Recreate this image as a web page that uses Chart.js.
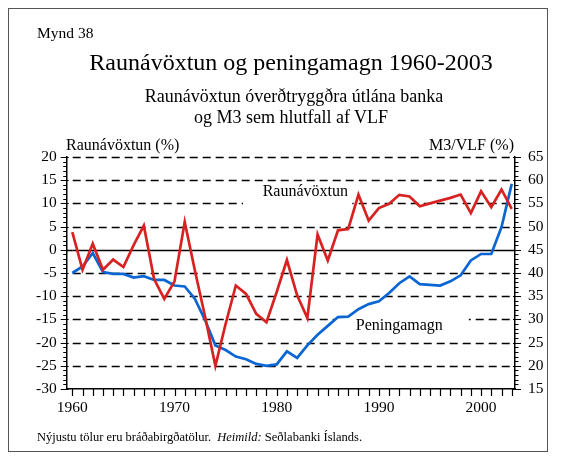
<!DOCTYPE html>
<html><head><meta charset="utf-8">
<script src="https://cdn.jsdelivr.net/npm/chart.js@4.4.0/dist/chart.umd.min.js"></script>
<style>
html,body{margin:0;padding:0;background:#fff;}
#wrap{position:relative;width:561px;height:458px;overflow:hidden;font-family:"Liberation Serif","Times New Roman",serif;color:#000;}
#frame{position:absolute;left:8px;top:8px;width:540px;height:444px;border:1px solid #555;box-sizing:border-box;}
canvas{position:absolute;left:0;top:0;}
.t{position:absolute;white-space:nowrap;line-height:1;}
</style></head><body>
<div id="wrap">
<div id="frame"></div>
<canvas id="c" width="561" height="458"></canvas>
<div class="t" style="left:37px;top:25px;font-size:15.5px;">Mynd 38</div>
<div class="t" style="left:0;width:582px;text-align:center;top:50px;font-size:24px;">Raunávöxtun og peningamagn 1960-2003</div>
<div class="t" style="left:0;width:588px;text-align:center;top:87px;font-size:18px;">Raunávöxtun óverðtryggðra útlána banka</div>
<div class="t" style="left:0;width:582px;text-align:center;top:108px;font-size:18px;">og M3 sem hlutfall af VLF</div>
<div class="t" style="left:66px;top:137px;font-size:16px;">Raunávöxtun (%)</div>
<div class="t" style="right:47px;top:137px;font-size:16px;">M3/VLF (%)</div>
<div class="t" style="left:37px;top:431px;font-size:12.5px;">Nýjustu tölur eru bráðabirgðatölur.&nbsp; <i>Heimild:</i> Seðlabanki Íslands.</div>
</div>
<script>
const years = [1960,1961,1962,1963,1964,1965,1966,1967,1968,1969,
               1970,1971,1972,1973,1974,1975,1976,1977,1978,1979,
               1980,1981,1982,1983,1984,1985,1986,1987,1988,1989,
               1990,1991,1992,1993,1994,1995,1996,1997,1998,1999,
               2000,2001,2002,2003];
const realRate = [3.8,-4.3,1.3,-4.3,-2.1,-3.7,1.0,5.2,-6.3,-10.6,
                  -6.8,6.0,-4.5,-14.5,-25.0,-16.0,-7.7,-9.5,-13.8,-15.6,
                  -9.1,-2.2,-9.8,-14.7,3.3,-2.3,4.2,4.5,11.9,6.3,
                  9.0,9.9,11.85,11.5,9.4,10.0,10.6,11.2,11.9,7.9,
                  12.6,9.2,13.0,8.8];
const m3 = [40.0,41.4,44.3,40.2,39.8,39.8,39.0,39.3,38.5,38.5,
            37.3,37.1,34.4,29.8,24.4,23.4,22.0,21.4,20.4,20.0,
            20.3,23.1,21.7,24.4,26.7,28.6,30.5,30.6,32.2,33.3,
            33.9,35.7,37.8,39.25,37.6,37.45,37.3,38.2,39.5,42.7,
            44.1,44.1,49.9,59.2];
const xLabels = [1960,1970,1980,1990,2000];
const leftTicks = [-30,-25,-20,-15,-10,-5,0,5,10,15,20];
const rightTicks = [15,20,25,30,35,40,45,50,55,60,65];
const gridVals = [20,15,10,5,0,-5,-10,-15,-20,-25];

Chart.defaults.font.family = "'Liberation Serif','Times New Roman',serif";
Chart.defaults.color = '#000';

const deco = {
  id:'deco',
  beforeDatasetsDraw(chart){
    const ctx = chart.ctx, ca = chart.chartArea;
    const x = chart.scales.x, yL = chart.scales.yL, yR = chart.scales.yR;
    ctx.save();
    ctx.strokeStyle = '#000';
    // horizontal grid lines
    gridVals.forEach(v=>{
      const py = Math.round(yL.getPixelForValue(v))+0.5;
      ctx.lineWidth = 1.6;
      ctx.setLineDash(v===0?[]:[8,5]);
      ctx.beginPath(); ctx.moveTo(ca.left+6, py); ctx.lineTo(ca.right, py); ctx.stroke();
      if (v===0){ctx.beginPath(); ctx.moveTo(ca.left, py); ctx.lineTo(ca.left+6, py); ctx.stroke();}
    });
    ctx.setLineDash([]);
    // gaps for labels
    ctx.fillStyle = '#fff';
    const gap = (x1,x2,v)=>{
      const a = x.getPixelForValue(x1), b = x.getPixelForValue(x2), py = yL.getPixelForValue(v);
      ctx.fillRect(a, py-3, b-a, 6);
    };
    gap(1976.7,1987.4,10);
    gap(1985.7,1998.8,-15);
    // labels
    ctx.fillStyle = '#000';
    ctx.font = "16px 'Liberation Serif','Times New Roman',serif";
    ctx.textAlign = 'center'; ctx.textBaseline = 'middle';
    ctx.fillText('Raunávöxtun', x.getPixelForValue(1982.8), yL.getPixelForValue(12.4));
    ctx.fillText('Peningamagn', x.getPixelForValue(1992.0), yL.getPixelForValue(-16.4));
    // ticks
    ctx.lineWidth = 1.2;
    ctx.beginPath();
    for (let v=-30; v<=20; v++){
      const py = Math.round(yL.getPixelForValue(v))+0.5;
      if (v%5===0){ ctx.moveTo(ca.left-6,py); ctx.lineTo(ca.left+2,py); }
      else { ctx.moveTo(ca.left-3.5,py); ctx.lineTo(ca.left,py); }
    }
    for (let v=15; v<=65; v++){
      const py = Math.round(yR.getPixelForValue(v))+0.5;
      if (v%5===0){ ctx.moveTo(ca.right-2,py); ctx.lineTo(ca.right+6,py); }
      else { ctx.moveTo(ca.right,py); ctx.lineTo(ca.right+3.5,py); }
    }
    for (let yr=1960; yr<=2003; yr++){
      const px = Math.round(x.getPixelForValue(yr))+0.5;
      ctx.moveTo(px, ca.bottom); ctx.lineTo(px, ca.bottom+7);
    }
    ctx.stroke();
    ctx.restore();
  }
};

new Chart(document.getElementById('c'), {
  type:'line',
  data:{datasets:[
    {label:'Raunávöxtun', data: years.map((y,i)=>({x:y,y:realRate[i]})), yAxisID:'yL',
     borderColor:'#d82222', borderWidth:2.7, pointRadius:0, tension:0, fill:false},
    {label:'Peningamagn', data: years.map((y,i)=>({x:y,y:m3[i]})), yAxisID:'yR',
     borderColor:'#0b66d4', borderWidth:2.7, pointRadius:0, tension:0, fill:false}
  ]},
  options:{
    responsive:false, animation:false, events:[],
    layout:{padding:{top:157,left:0,right:0,bottom:0}},
    plugins:{legend:{display:false}, tooltip:{enabled:false}},
    scales:{
      x:{type:'linear', min:1959.45, max:2003.32,
         afterBuildTicks:s=>{s.ticks = xLabels.map(v=>({value:v}));},
         ticks:{font:{size:15.5}, padding:10, maxRotation:0, autoSkip:false, callback:v=>String(v)},
         grid:{display:false, drawTicks:false},
         border:{display:true, color:'#000', width:1.5},
         afterFit:s=>{s.height=69;}},
      yL:{position:'left', min:-30, max:20,
         afterBuildTicks:s=>{s.ticks = leftTicks.map(v=>({value:v}));},
         ticks:{font:{size:15.5}, padding:10},
         grid:{display:false, drawTicks:false},
         border:{display:true, color:'#000', width:1.5},
         afterFit:s=>{s.width=66.7;}},
      yR:{position:'right', min:15, max:65,
         afterBuildTicks:s=>{s.ticks = rightTicks.map(v=>({value:v}));},
         ticks:{font:{size:15.5}, padding:13},
         grid:{display:false, drawTicks:false},
         border:{display:true, color:'#000', width:1.5},
         afterFit:s=>{s.width=46;}}
    }
  },
  plugins:[deco]
});
</script>
</body></html>
